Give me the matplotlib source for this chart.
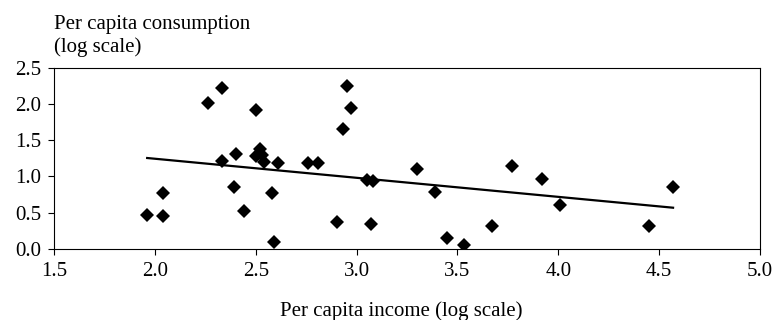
import matplotlib.pyplot as plt
import numpy as np

plt.rcParams['font.family'] = ['Liberation Serif', 'DejaVu Serif']

# per capita income (log scale) and per capita consumption (log scale)
income = [1.96, 2.04, 2.04, 2.26, 2.33, 2.33, 2.39, 2.40, 2.44,
          2.50, 2.50, 2.52, 2.53, 2.54, 2.58, 2.59, 2.61, 2.76, 2.81,
          2.90, 2.93, 2.95, 2.97, 3.05, 3.08, 3.07,
          3.30, 3.39, 3.45, 3.53, 3.67, 3.77, 3.92, 4.01, 4.45, 4.57]
consumption = [0.47, 0.77, 0.46, 2.01, 2.22, 1.21, 0.85, 1.31, 0.52,
               1.92, 1.28, 1.38, 1.30, 1.20, 0.77, 0.10, 1.19, 1.19, 1.18,
               0.37, 1.65, 2.25, 1.95, 0.95, 0.94, 0.34,
               1.10, 0.79, 0.15, 0.05, 0.31, 1.15, 0.96, 0.61, 0.32, 0.86]

xticks = [1.5, 2.0, 2.5, 3.0, 3.5, 4.0, 4.5, 5.0]
yticks = [0.0, 0.5, 1.0, 1.5, 2.0, 2.5]

x = np.array(income)
y = np.array(consumption)

fig = plt.figure(figsize=(7.76, 3.2), dpi=100)
ax = fig.add_axes([0.0702, 0.222, 0.9088, 0.5664])

ax.plot(x, y, 'D', color='black', markersize=6.8, markeredgewidth=0)

# linear trend line
slope, icpt = np.polyfit(x, y, 1)
xs = np.array([x.min(), x.max()])
ax.plot(xs, icpt + slope * xs, color='black', lw=1.6)

ax.set_xlim(1.5, 5.0)
ax.set_ylim(0.0, 2.5)
ax.set_xticks(xticks)
ax.set_yticks(yticks)
ax.set_xticklabels(['%.1f' % t for t in xticks])
ax.set_yticklabels(['%.1f' % t for t in yticks])
ax.tick_params(labelsize=15, direction='out', length=4.3, width=0.8,
               color='black', pad=5)
for s in ax.spines.values():
    s.set_linewidth(0.8)
    s.set_color('black')

fig.text(0.5174, 1 - 316 / 320, 'Per capita income (log scale)', fontsize=15,
         ha='center', va='baseline')
fig.text(0.0696, 1 - 29 / 320, 'Per capita consumption', fontsize=15,
         ha='left', va='baseline')
fig.text(0.0696, 1 - 52 / 320, '(log scale)', fontsize=15,
         ha='left', va='baseline')

fig.savefig('out.png', dpi=100)
